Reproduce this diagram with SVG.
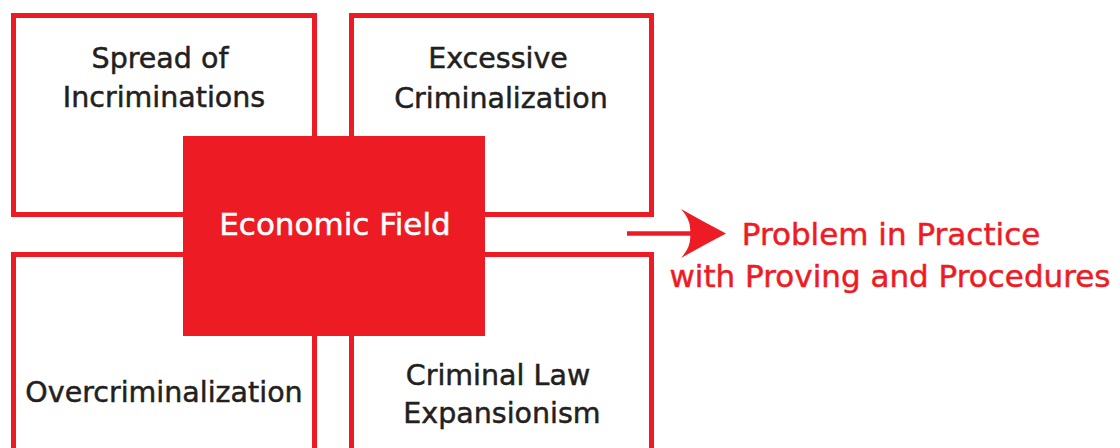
<svg xmlns="http://www.w3.org/2000/svg" width="1120" height="448" viewBox="0 0 1120 448">
  <style>
    .box { fill: none; stroke: #ED1C24; stroke-width: 5; }
    .lbl { font-family: "DejaVu Sans", sans-serif; font-size: 28.5px; fill: #231F20; stroke: #231F20; stroke-width: 0.5; text-anchor: middle; }
    .red { font-family: "DejaVu Sans", sans-serif; font-size: 31px; fill: #ED1C24; stroke: #ED1C24; stroke-width: 0.5; text-anchor: middle; }
    .wht { font-family: "DejaVu Sans", sans-serif; font-size: 31px; fill: #FFFFFF; stroke: #FFFFFF; stroke-width: 0.5; text-anchor: middle; }
  </style>
  <rect width="1120" height="448" fill="#FFFFFF"/>
  <g id="spread">
    <rect class="box" x="13.5" y="15.5" width="301" height="199"/>
    <text class="lbl" x="160" y="68">Spread of</text>
    <text class="lbl" x="164" y="107">Incriminations</text>
  </g>
  <g id="excessive">
    <rect class="box" x="351.5" y="15.5" width="300" height="199"/>
    <text class="lbl" x="498" y="68">Excessive</text>
    <text class="lbl" x="501" y="108">Criminalization</text>
  </g>
  <g id="overcriminalization">
    <rect class="box" x="13.5" y="254.5" width="301" height="300"/>
    <text class="lbl" x="164" y="402">Overcriminalization</text>
  </g>
  <g id="expansionism">
    <rect class="box" x="351.5" y="254.5" width="300" height="300"/>
    <text class="lbl" x="498" y="385">Criminal Law</text>
    <text class="lbl" x="502" y="423">Expansionism</text>
  </g>
  <g id="economic">
    <rect x="183" y="136" width="302" height="200" fill="#ED1C24"/>
    <text class="wht" x="335" y="235">Economic Field</text>
  </g>
  <g id="connectors">
    <line x1="627" y1="233.5" x2="692" y2="233.5" stroke="#ED1C24" stroke-width="4.5"/>
    <path d="M681,209 Q704,222 726,233.5 Q704,245 681,258 Q692,246 690,233.5 Q692,221 681,209 Z" fill="#ED1C24"/>
  </g>
  <g id="result">
    <text class="red" x="891" y="245">Problem in Practice</text>
    <text class="red" x="890" y="287">with Proving and Procedures</text>
  </g>
</svg>
